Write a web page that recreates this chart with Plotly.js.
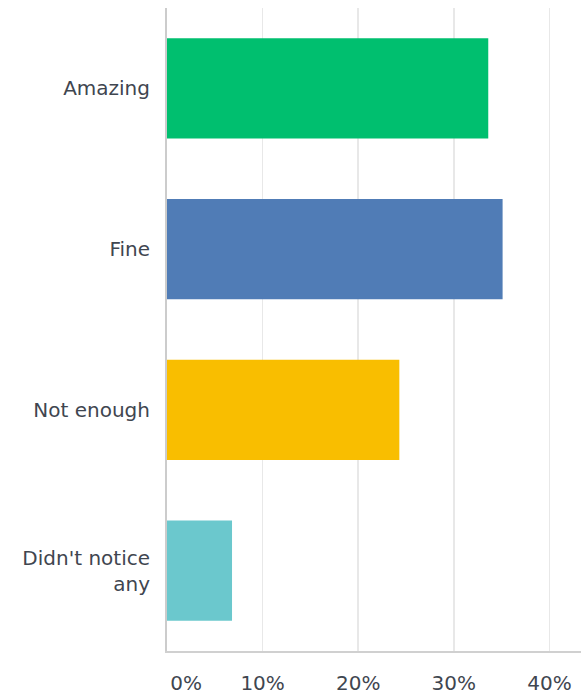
<!DOCTYPE html>
<html>
<head>
<meta charset="utf-8">
<script src="https://cdn.plot.ly/plotly-3.0.1.min.js"></script>
<style>html,body{margin:0;padding:0;background:#fff;}#chart{width:581px;height:697px;}</style>
</head>
<body>
<div id="chart"></div>
<script>
const categories = ["Amazing", "Fine", "Not enough", "Didn't notice<br>any"];
const values = [33.6, 35.1, 24.3, 6.8];
const colors = ["#00bf6f", "#507cb6", "#f9be00", "#6bc8cd"];
const tickVals = [0, 10, 20, 30, 40];
const tickLabels = ["\u2007\u2007\u20070%", "10%", "20%", "30%", "40%"];

const trace = {
  type: "bar",
  orientation: "h",
  y: categories,
  x: values,
  marker: {color: colors},
  hoverinfo: "none"
};

const layout = {
  width: 581,
  height: 697,
  margin: {l: 167, r: 0, t: 8, b: 46, pad: 0},
  paper_bgcolor: "#ffffff",
  plot_bgcolor: "#ffffff",
  showlegend: false,
  bargap: 0.377,
  font: {family: "DejaVu Sans", size: 20, color: "#3f4650"},
  xaxis: {
    range: [0, 43.3],
    tickvals: tickVals,
    ticktext: tickLabels,
    showgrid: true,
    gridcolor: "#e8e8e8",
    gridwidth: 1.5,
    zeroline: false,
    showline: true,
    linecolor: "#d0d0d0",
    linewidth: 2,
    ticks: "",
    ticklabelstandoff: 13,
    tickfont: {family: "DejaVu Sans", size: 20, color: "#3f4650"},
    fixedrange: true
  },
  yaxis: {
    categoryorder: "array",
    categoryarray: categories,
    autorange: "reversed",
    showgrid: false,
    zeroline: false,
    showline: true,
    linecolor: "#cccccc",
    linewidth: 2,
    ticks: "",
    ticklabelstandoff: 11,
    tickfont: {family: "DejaVu Sans", size: 20, color: "#3f4650"},
    fixedrange: true
  }
};

Plotly.newPlot("chart", [trace], layout, {displayModeBar: false, staticPlot: true});
</script>
</body>
</html>
